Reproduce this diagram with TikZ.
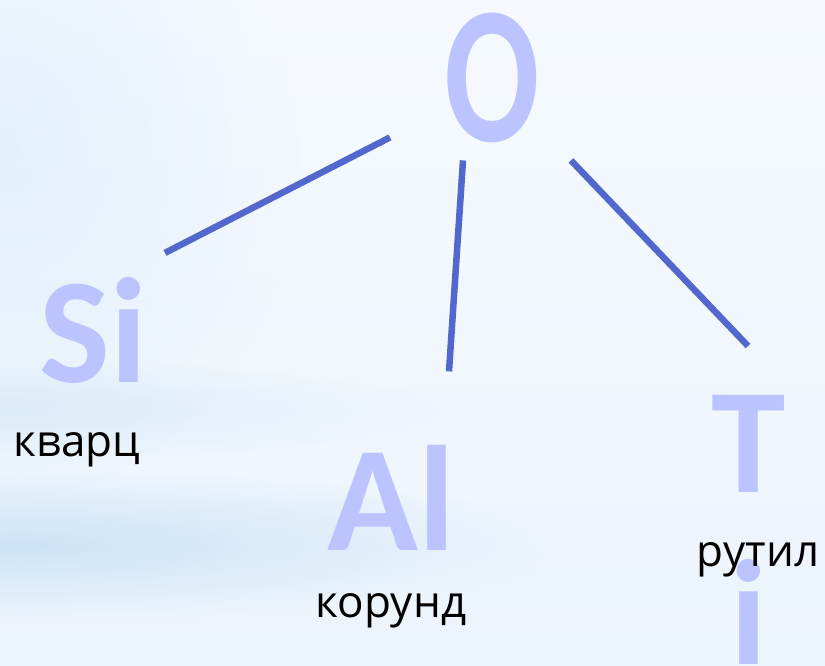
\documentclass[tikz,border=0pt]{standalone}
\usepackage{fontspec}
\setmainfont{Open Sans}
\newfontfamily\elemfont{Carlito}
\usetikzlibrary{positioning, fadings}

\definecolor{elemblue}{RGB}{188,196,255}
\definecolor{linkblue}{RGB}{82,104,204}
\definecolor{skytop}{RGB}{246,250,255}
\definecolor{skylow}{RGB}{236,244,252}
\definecolor{skyband}{RGB}{204,228,248}

\tikzfading[name = softblob, inner color = transparent!0, outer color = transparent!100]

\begin{document}
\begin{tikzpicture}[
            x = 1pt, y = -1pt, % pixel-like units, y grows downwards
            link/.style = {draw = linkblue, line width = 6.5pt}, % bond line
            inner sep = 0pt
        ]

        \tikzstyle{element}=[
            text = elemblue,
            font = \elemfont\bfseries\fontsize{150}{180}\selectfont,
            anchor = base
        ]
        \tikzstyle{mineral}=[
            text = black,
            font = \fontsize{44}{50}\selectfont,
            anchor = base
        ]

        % background
        \useasboundingbox (0,0) rectangle (825,665);
        \shade[top color = skytop, bottom color = skylow] (0,0) rectangle (825,665);
        \fill[skyband, path fading = softblob] (-520,470) rectangle (560,620);
        \fill[skyband, opacity = 0.5, path fading = softblob] (-420,360) rectangle (440,460);
        \fill[skyband, opacity = 0.4, path fading = softblob] (-300,-200) rectangle (300,500);

        % elements
        \node[element, font = \elemfont\bfseries\fontsize{196}{220}\selectfont] (O) at (492,141) {\scalebox{0.72}[1]{O}};
        \node[element] (Si) at (93,382) {Si};
        \node[element] (Al) at (391,550) {Al};
        \node[element, align = center,
              font = \elemfont\bfseries\fontsize{150}{172}\selectfont] (Ti) at (749,664) {T\\i};

        % minerals
        \node[mineral] (kvarc) at (77,456) {кварц};
        \node[mineral] (korund) at (391,617) {корунд};
        \node[mineral] (rutil) at (758,566) {рутил};

        % bonds
        \draw[link] ([shift = {(-102,60)}]O.center) -- ([shift = {(72,-77)}]Si.center);
        \draw[link] ([shift = {(-29,83)}]O.center) -- ([shift = {(58,-126)}]Al.center);
        \draw[link] ([shift = {(79,83)}]O.center) -- ([shift = {(-1,-318)}]Ti.base);
    \end{tikzpicture}
\end{document}
